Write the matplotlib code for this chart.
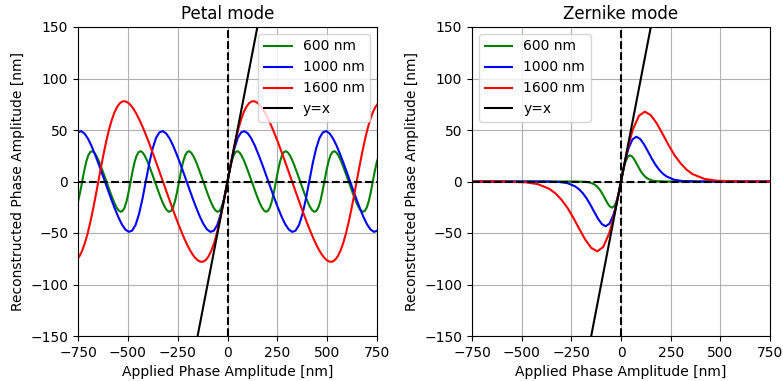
import matplotlib
matplotlib.use("Agg")
import matplotlib.pyplot as plt
import numpy as np

wavelengths = ["600 nm", "1000 nm", "1600 nm"]
colors = ["g", "b", "r"]

# ---- Petal mode: sample spacing (nm) ----
x_petal_600 = np.arange(-75, 76) * 10.125
x_petal_1000 = np.arange(-44, 45) * 17.083
x_petal_1600 = np.arange(-56, 57) * 13.5

y_petal_600 = [
    -25.3, -19.1, -10.3,
    0, 10.3, 19.1, 25.3, 28.6, 29.4, 28.0, 25.0, 21.0, 16.2, 11.0, 5.6, 0, -5.6, -11.0, -16.2, -21.0, -25.0, -28.0, -29.4, -28.6, -25.3, -19.1, -10.3,
    0, 10.3, 19.1, 25.3, 28.6, 29.4, 28.0, 25.0, 21.0, 16.2, 11.0, 5.6, 0, -5.6, -11.0, -16.2, -21.0, -25.0, -28.0, -29.4, -28.6, -25.3, -19.1, -10.3,
    0, 10.3, 19.1, 25.3, 28.6, 29.4, 28.0, 25.0, 21.0, 16.2, 11.0, 5.6, 0, -5.6, -11.0, -16.2, -21.0, -25.0, -28.0, -29.4, -28.6, -25.3, -19.1, -10.3,
    0, 10.3, 19.1, 25.3, 28.6, 29.4, 28.0, 25.0, 21.0, 16.2, 11.0, 5.6, 0, -5.6, -11.0, -16.2, -21.0, -25.0, -28.0, -29.4, -28.6, -25.3, -19.1, -10.3,
    0, 10.3, 19.1, 25.3, 28.6, 29.4, 28.0, 25.0, 21.0, 16.2, 11.0, 5.6, 0, -5.6, -11.0, -16.2, -21.0, -25.0, -28.0, -29.4, -28.6, -25.3, -19.1, -10.3,
    0, 10.3, 19.1, 25.3, 28.6, 29.4, 28.0, 25.0, 21.0, 16.2, 11.0, 5.6, 0, -5.6, -11.0, -16.2, -21.0, -25.0, -28.0, -29.4, -28.6, -25.3, -19.1, -10.3,
    0, 10.3, 19.1, 25.3,
]
y_petal_1000 = [
    47.7, 48.9, 46.6, 41.7, 35.0, 27.0, 18.4, 9.3, 0, -9.3, -18.4, -27.0, -35.0, -41.7, -46.6, -48.9, -47.7, -42.2, -31.8, -17.2,
    0, 17.2, 31.8, 42.2, 47.7, 48.9, 46.6, 41.7, 35.0, 27.0, 18.4, 9.3, 0, -9.3, -18.4, -27.0, -35.0, -41.7, -46.6, -48.9, -47.7, -42.2, -31.8, -17.2,
    0, 17.2, 31.8, 42.2, 47.7, 48.9, 46.6, 41.7, 35.0, 27.0, 18.4, 9.3, 0, -9.3, -18.4, -27.0, -35.0, -41.7, -46.6, -48.9, -47.7, -42.2, -31.8, -17.2,
    0, 17.2, 31.8, 42.2, 47.7, 48.9, 46.6, 41.7, 35.0, 27.0, 18.4, 9.3, 0, -9.3, -18.4, -27.0, -35.0, -41.7, -46.6, -48.9, -47.7,
]
y_petal_1600 = [
    -76.0, -72.5, -67.1, -59.8, -50.7, -39.7, -27.4, -14.0,
    0, 14.0, 27.4, 39.7, 50.7, 59.8, 67.1, 72.5, 76.0, 77.8, 77.9, 76.6, 74.2, 70.7, 66.4, 61.3,
    55.7, 49.6, 43.1, 36.3, 29.3, 22.1, 14.8, 7.4, 0, -7.4, -14.8, -22.1, -29.3, -36.3, -43.1, -49.6,
    -55.7, -61.3, -66.4, -70.7, -74.2, -76.6, -77.9, -77.8, -76.0, -72.5, -67.1, -59.8, -50.7, -39.7, -27.4, -14.0,
    0, 14.0, 27.4, 39.7, 50.7, 59.8, 67.1, 72.5, 76.0, 77.8, 77.9, 76.6, 74.2, 70.7, 66.4, 61.3,
    55.7, 49.6, 43.1, 36.3, 29.3, 22.1, 14.8, 7.4, 0, -7.4, -14.8, -22.1, -29.3, -36.3, -43.1, -49.6,
    -55.7, -61.3, -66.4, -70.7, -74.2, -76.6, -77.9, -77.8, -76.0, -72.5, -67.1, -59.8, -50.7, -39.7, -27.4, -14.0,
    0, 14.0, 27.4, 39.7, 50.7, 59.8, 67.1, 72.5, 76.0,
]

# ---- Zernike mode ----
x_zern_600 = [-750, -225, -180, -157.5, -135, -123.8, -112.5, -101.3, -90, -78.8, -67.5, -56.3, -45, -33.8, -22.5, -16.9, -11.3, -5.6,
              0, 5.6, 11.3, 16.9, 22.5, 33.8, 45, 56.3, 67.5, 78.8, 90, 101.3, 112.5, 123.8, 135, 157.5, 180, 225, 750]
y_zern_600 = [0, 0, -0.3, -0.9, -2.7, -4.3, -6.6, -9.5, -13.2, -17.2, -21.2, -24.2, -25.4, -23.9, -19.0, -15.2, -10.7, -5.5,
              0, 5.5, 10.7, 15.2, 19.0, 23.9, 25.4, 24.2, 21.2, 17.2, 13.2, 9.5, 6.6, 4.3, 2.7, 0.9, 0.3, 0, 0]

x_zern_1000 = [-750, -385, -308, -269.5, -231, -211.8, -192.5, -173.3, -154, -134.8, -115.5, -96.3, -77, -57.8, -38.5, -28.9, -19.3, -9.6,
               0, 9.6, 19.3, 28.9, 38.5, 57.8, 77, 96.3, 115.5, 134.8, 154, 173.3, 192.5, 211.8, 231, 269.5, 308, 385, 750]
y_zern_1000 = [0, 0, -0.5, -1.6, -4.7, -7.4, -11.3, -16.3, -22.6, -29.5, -36.2, -41.3, -43.5, -40.9, -32.5, -26.1, -18.3, -9.5,
               0, 9.5, 18.3, 26.1, 32.5, 40.9, 43.5, 41.3, 36.2, 29.5, 22.6, 16.3, 11.3, 7.4, 4.7, 1.6, 0.5, 0, 0]

x_zern_1600 = [-750, -600, -480, -420, -360, -330, -300, -270, -240, -210, -180, -150, -120, -90, -60, -45, -30, -15,
               0, 15, 30, 45, 60, 90, 120, 150, 180, 210, 240, 270, 300, 330, 360, 420, 480, 600, 750]
y_zern_1600 = [0, 0, -0.8, -2.5, -7.2, -11.5, -17.6, -25.4, -35.2, -46.0, -56.4, -64.4, -67.8, -63.7, -50.6, -40.6, -28.6, -14.8,
               0, 14.8, 28.6, 40.6, 50.6, 63.7, 67.8, 64.4, 56.4, 46.0, 35.2, 25.4, 17.6, 11.5, 7.2, 2.5, 0.8, 0, 0]

identity = [-750, 750]

panels = [
    ("Petal mode", [(x_petal_600, y_petal_600), (x_petal_1000, y_petal_1000), (x_petal_1600, y_petal_1600)], "upper right"),
    ("Zernike mode", [(x_zern_600, y_zern_600), (x_zern_1000, y_zern_1000), (x_zern_1600, y_zern_1600)], "upper left"),
]

fig = plt.figure(figsize=(7.83, 3.81), dpi=100)
ax_left = fig.add_axes([78 / 783, 1 - 336 / 381, 299 / 783, 309 / 381])
ax_right = fig.add_axes([472 / 783, 1 - 336 / 381, 298 / 783, 309 / 381])

for ax, (title, curves, loc) in zip([ax_left, ax_right], panels):
    for (x, y), label, c in zip(curves, wavelengths, colors):
        ax.plot(x, y, color=c, label=label)
    ax.plot(identity, identity, color="k", label="y=x")
    ax.axhline(0, color="k", linestyle="--")
    ax.axvline(0, color="k", linestyle="--")
    ax.set_xlim(-750, 750)
    ax.set_ylim(-150, 150)
    ax.set_xticks([-750, -500, -250, 0, 250, 500, 750])
    ax.set_yticks([-150, -100, -50, 0, 50, 100, 150])
    ax.grid(True)
    ax.set_title(title)
    ax.set_xlabel("Applied Phase Amplitude [nm]")
    ax.set_ylabel("Reconstructed Phase Amplitude [nm]")
    ax.legend(loc=loc)

fig.savefig("out.png", dpi=100)
